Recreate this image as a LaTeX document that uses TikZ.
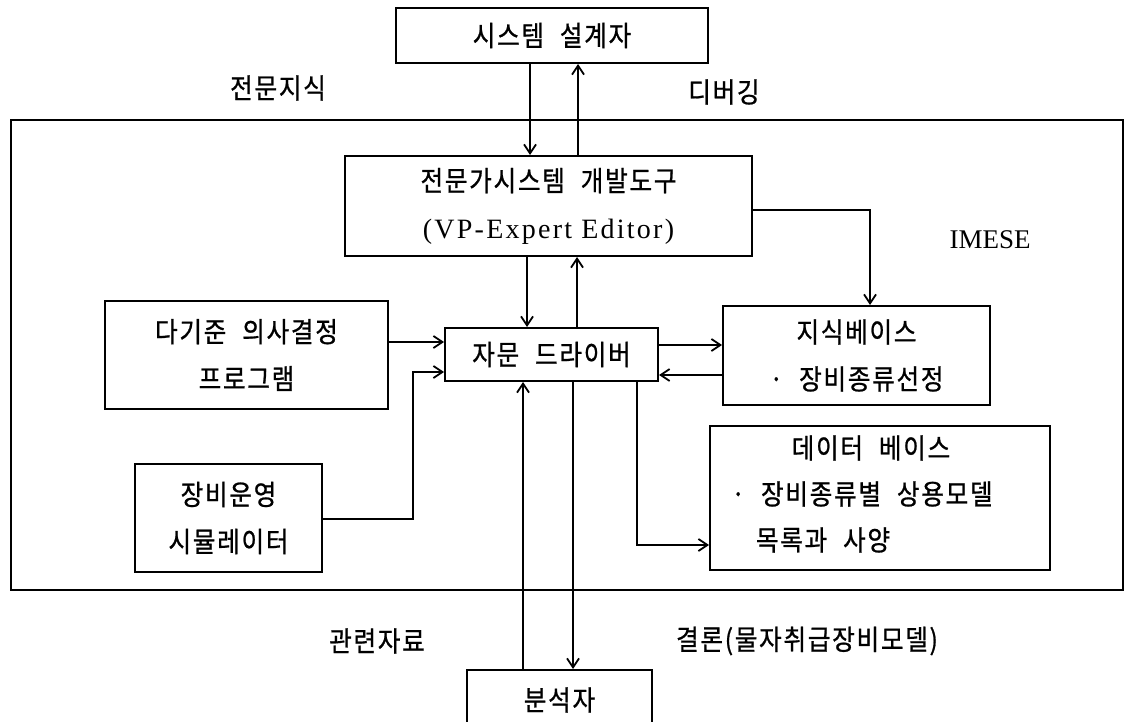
\documentclass[tikz,border=0pt]{standalone}
\usepackage{fontspec}
\setmainfont{Liberation Serif}
\newfontfamily\kr[FakeStretch=0.88,LetterSpace=6,FakeBold=0.8,WordSpace=2.2]{Noto Sans CJK KR}
\newfontfamily\latsp[LetterSpace=8]{Liberation Serif}
\usetikzlibrary{arrows.meta,calc}
\tikzset{
  box/.style={draw, line width=2pt, inner sep=0pt, font=\kr\fontsize{28}{47}\selectfont, align=center},
  frame/.style={draw, line width=2pt, inner sep=0pt},
  lbl/.style={inner sep=0pt, font=\kr\fontsize{28}{34}\selectfont},
  latlbl/.style={inner sep=0pt, font=\fontsize{27}{30}\selectfont},
  conn/.style={line width=1.8pt, -{Straight Barb[length=9pt,width=12pt,line width=1.8pt]}},
}
\begin{document}
\begin{tikzpicture}[x=1pt,y=-1pt]
\useasboundingbox (0,0) rectangle (1124,722);
% outer IMESE frame
\node[frame, minimum width=1112pt, minimum height=470pt] (imese) at (567,355) {};
\node[latlbl] (imeselbl) at (990,240) {IMESE};
% boxes
\node[box, minimum width=312pt, minimum height=55pt] (sd) at (552,35.5) {시스템 설계자};
\node[box, minimum width=407pt, minimum height=100pt] (ed) at (548.5,206) {전문가시스템 개발도구\\{\latsp (VP-Expert Editor)}};
\node[box, minimum width=283pt, minimum height=108pt] (mc) at (246.5,355) {다기준 의사결정\\프로그램};
\node[box, minimum width=213pt, minimum height=53pt] (cd) at (551.5,354.5) {자문 드라이버};
\node[box, minimum width=267pt, minimum height=99pt] (kb) at (856.5,355.5) {지식베이스\\· 장비종류선정};
\node[box, minimum width=340pt, minimum height=144pt] (db) at (880,498) {};
\node[lbl] (db1) at (871,448) {데이터 베이스};
\node[lbl] (db2) at (862,494) {· 장비종류별 상용모델};
\node[lbl] (db3) at (823,540) {목록과 사양};
\node[box, minimum width=187pt, minimum height=108pt] (sim) at (228.5,518) {장비운영\\시뮬레이터};
\node[box, minimum width=185pt, minimum height=60pt] (an) at (559.5,700) {분석자};
% labels
\node[lbl] (l1) at (278,88) {전문지식};
\node[lbl] (l2) at (724,92) {디버깅};
\node[lbl] (l4) at (377,641) {관련자료};
\node[lbl] (l5) at (807,641) {결론(물자취급장비모델)};
% helper coordinates
\coordinate (x530) at (530,0);
\coordinate (x578) at (578,0);
\coordinate (x527) at (527,0);
\coordinate (x577) at (577,0);
\coordinate (x523) at (523,0);
\coordinate (x573) at (573,0);
\coordinate (k1) at (870,210);
\coordinate (y342) at (0,342);
\coordinate (y345) at (0,345);
\coordinate (y375) at (0,375);
\coordinate (s1) at (413,519);
\coordinate (s2) at (0,372);
\coordinate (d1) at (637,545);
% connectors
\draw[conn] (sd.south -| x530) -- (ed.north -| x530);
\draw[conn] (ed.north -| x578) -- (sd.south -| x578);
\draw[conn] (ed.south -| x527) -- (cd.north -| x527);
\draw[conn] (cd.north -| x577) -- (ed.south -| x577);
\draw[conn] (ed.east |- k1) -| (kb.north -| k1);
\draw[conn] (mc.east |- y342) -- (cd.west |- y342);
\draw[conn] (sim.east |- s1) -- (s1) |- (cd.west |- s2);
\draw[conn] (cd.east |- y345) -- (kb.west |- y345);
\draw[conn] (kb.west |- y375) -- (cd.east |- y375);
\draw[conn] (cd.south -| d1) |- (db.west |- d1);
\draw[conn] (an.north -| x523) -- (cd.south -| x523);
\draw[conn] (cd.south -| x573) -- (an.north -| x573);
\end{tikzpicture}
\end{document}
